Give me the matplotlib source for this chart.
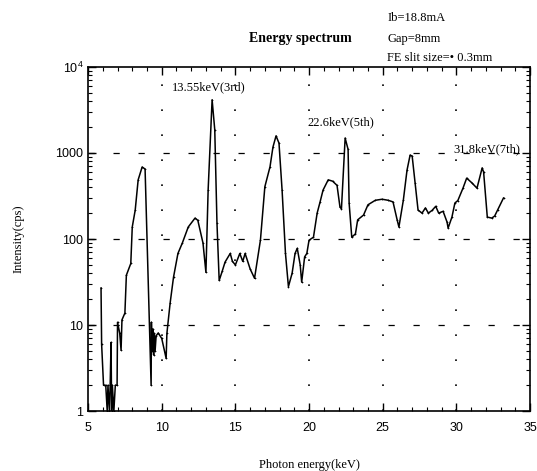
import numpy as np
import matplotlib
matplotlib.use("Agg")
import matplotlib.pyplot as plt
from matplotlib.ticker import FixedLocator, LogLocator, NullFormatter

plt.rcParams['font.family'] = ['Liberation Serif', 'DejaVu Serif']
plt.rcParams['mathtext.fontset'] = 'custom'
plt.rcParams['mathtext.rm'] = 'Liberation Sans'

# Spectrum (keV, cps)
energy = [5.88, 5.92, 6.05, 6.2, 6.3, 6.35, 6.45, 6.5, 6.56, 6.6, 6.65, 6.75, 6.85,
          6.97, 7.0, 7.15, 7.24, 7.3, 7.5, 7.6, 7.9, 8.0, 8.2, 8.4, 8.67, 8.87,
          9.28, 9.3, 9.35, 9.4, 9.45, 9.5, 9.55, 9.62, 9.76, 10.0, 10.3, 10.35,
          10.57, 10.8, 11.1, 11.4, 11.8, 12.26, 12.45, 12.8, 13.0, 13.15, 13.42,
          13.6, 13.75, 13.9, 14.1, 14.3, 14.65, 14.8, 15.0, 15.3, 15.5, 15.66,
          16.0, 16.3, 16.7, 17.0, 17.35, 17.55, 17.76, 17.96, 18.17, 18.4, 18.6,
          18.85, 19.05, 19.2, 19.4, 19.5, 19.7, 19.85, 20.0, 20.3, 20.55, 20.75,
          20.95, 21.3, 21.6, 21.9, 22.1, 22.2, 22.45, 22.65, 22.72, 22.9, 23.15,
          23.3, 23.7, 24.0, 24.5, 24.96, 25.37, 25.7, 25.98, 26.1, 26.4, 26.65,
          26.86, 27.0, 27.2, 27.4, 27.67, 27.9, 28.1, 28.35, 28.6, 28.8, 29.1,
          29.37, 29.44, 29.7, 29.9, 30.1, 30.45, 30.7, 31.05, 31.4, 31.75, 31.85,
          32.1, 32.4, 32.6, 32.8, 33.2]
intensity = [27, 6, 2.0, 2.0, 1.0, 2.0, 1.0, 2.0, 6.3, 1.0, 2.0, 1.0, 2.0,
             2.0, 10.8, 8.0, 5.1, 11.5, 13.8, 38, 52, 138, 217, 487, 687, 650,
             2.0, 10.8, 5, 9, 4.5, 8, 5, 7.5, 8.1, 7.0, 4.1, 8,
             18, 36, 68, 90, 138, 175, 165, 90, 41, 370, 4150,
             1860, 153, 33, 42, 54, 68, 55, 50, 68, 55, 68,
             45, 35, 97, 405, 690, 1170, 1580, 1300, 370, 68, 28,
             40, 68, 78, 50, 31.6, 62, 68, 97, 105, 200, 270,
             370, 487, 470, 420, 235, 225, 1490, 1100, 262, 105, 115,
             167, 190, 250, 282, 290, 282, 270, 167, 138, 282, 630,
             945, 920, 450, 217, 200, 230, 200, 215, 240, 200, 210,
             157, 134, 180, 262, 280, 390, 510, 450, 390, 670, 600,
             180, 175, 185, 217, 300]

peak_labels = ["13.55keV(3rd)", "22.6keV(5th)", "31.8keV(7th)"]
peak_label_pos = [(10.7, 5800), (19.9, 2290), (29.8, 1110)]

x_ticks = [5, 10, 15, 20, 25, 30, 35]
y_ticks = [1, 10, 100, 1000, 10000]
y_tick_labels = ["1", "10", "100", "1000", "$10^4$"]

fig = plt.figure(figsize=(5.37, 4.71), dpi=100)
ax = fig.add_axes([0.164, 0.127, 0.823, 0.731])

ax.plot(energy, intensity, color='black', lw=1.1, marker='+', ms=2, mew=0.5)

ax.set_yscale('log')
ax.set_xlim(5, 35)
ax.set_ylim(1, 10000)

ax.xaxis.set_major_locator(FixedLocator(x_ticks))
ax.xaxis.set_minor_locator(FixedLocator(np.arange(5, 36, 1)))
ax.set_yticks(y_ticks)
ax.set_yticklabels(y_tick_labels)
ax.yaxis.set_minor_locator(LogLocator(base=10, subs=np.arange(2, 10)))
ax.yaxis.set_minor_formatter(NullFormatter())

ax.tick_params(which='both', direction='in', top=True, right=True, labelsize=9)
ax.tick_params(which='major', length=6, width=1)
ax.tick_params(which='minor', length=3, width=0.8)
ax.tick_params(axis='x', pad=8)
for lbl in ax.get_xticklabels() + ax.get_yticklabels():
    lbl.set_family('Liberation Sans')
for s in ax.spines.values():
    s.set_linewidth(1.2)

# sparse dotted grid like the scanned original
for xv in [10, 15, 20, 25, 30]:
    ax.axvline(xv, color='black', lw=1.2, ls=(0, (1, 14)), zorder=0)
for yv in [10, 100, 1000]:
    ax.axhline(yv, color='black', lw=0.9, ls=(0, (5, 15)), zorder=0)

for txt, (xe, yi) in zip(peak_labels, peak_label_pos):
    ax.text(xe, yi, txt, fontsize=9, va='center', ha='left')

ax.set_xlabel("Photon energy(keV)", fontsize=9, labelpad=18)
ax.set_ylabel("Intensity(cps)", fontsize=9, labelpad=22)

fig.text(0.56, 0.918, "Energy spectrum", fontsize=10, fontweight='bold', ha='center', va='center')
fig.text(0.721, 0.962, "Ib=18.8mA", fontsize=9, va='center')
fig.text(0.721, 0.918, "Gap=8mm", fontsize=9, va='center')
fig.text(0.721, 0.876, "FE slit size=\u2022 0.3mm", fontsize=9, va='center')

fig.savefig("out.png", dpi=100)
